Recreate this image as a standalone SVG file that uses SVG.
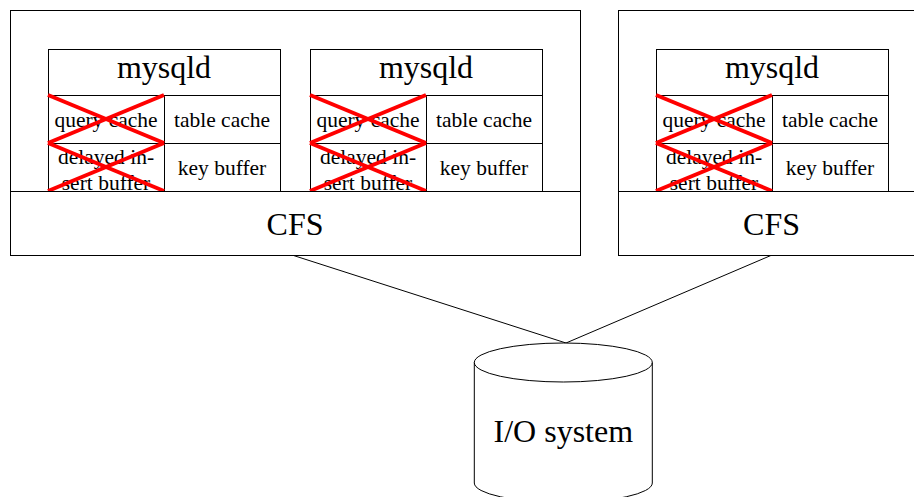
<svg xmlns="http://www.w3.org/2000/svg" width="914" height="497" viewBox="0 0 914 497" font-family="'Liberation Serif', 'Times New Roman', 'DejaVu Serif', serif">
<style>
.box{fill:#fff;stroke:#000;stroke-width:1}
.ln{fill:none;stroke:#000;stroke-width:1}
.x{stroke:#ff0000;stroke-width:4;stroke-linecap:butt}
.big{font-size:32px;font-family:'Liberation Serif',serif;fill:#000;text-anchor:middle}
.sm{font-size:21.5px;font-family:'Liberation Serif',serif;fill:#000;text-anchor:middle}
</style>
<defs>
<g id="mysqldBox">
<rect class="box" x="0.5" y="0.5" width="232" height="142"/>
<line class="ln" x1="0.5" y1="46.5" x2="232.5" y2="46.5"/>
<line class="ln" x1="0.5" y1="94.5" x2="232.5" y2="94.5"/>
<line class="ln" x1="116.5" y1="46.5" x2="116.5" y2="142.5"/>
<text class="big" font-family="Liberation Serif" x="116" y="29">mysqld</text>
<text class="sm" font-family="Liberation Serif" x="58" y="78">query cache</text>
<text class="sm" font-family="Liberation Serif" x="174" y="78">table cache</text>
<text class="sm" font-family="Liberation Serif" x="58" y="115">delayed in-</text>
<text class="sm" font-family="Liberation Serif" x="58" y="140.5">sert buffer</text>
<text class="sm" font-family="Liberation Serif" x="174" y="126">key buffer</text>
<line class="x" x1="0" y1="46" x2="116" y2="94"/>
<line class="x" x1="0" y1="94" x2="116" y2="46"/>
<line class="x" x1="0" y1="94" x2="116" y2="142"/>
<line class="x" x1="0" y1="142" x2="116" y2="94"/>
</g>
</defs>
<g id="connectors">
<line class="ln" x1="292" y1="255" x2="566" y2="343"/>
<line class="ln" x1="772" y1="255" x2="566" y2="343"/>
</g>
<g id="host1">
<rect class="box" x="10.5" y="10.5" width="570" height="245"/>
</g>
<g id="mysqld1"><use href="#mysqldBox" transform="translate(48,49)"/></g>
<g id="mysqld2"><use href="#mysqldBox" transform="translate(310,49)"/></g>
<g id="cfs1">
<rect class="box" x="10.5" y="191.5" width="570" height="64"/>
<text class="big" font-family="Liberation Serif" x="295" y="234.5">CFS</text>
</g>
<g id="host2">
<rect class="box" x="618.5" y="10.5" width="308" height="245"/>
</g>
<g id="mysqld3"><use href="#mysqldBox" transform="translate(656,49)"/></g>
<g id="cfs2">
<rect class="box" x="618.5" y="191.5" width="308" height="64"/>
<text class="big" font-family="Liberation Serif" x="771.5" y="234.5">CFS</text>
</g>
<g id="io">
<path class="box" d="M474.3,362.5 L474.3,483 A89,19.5 0 0 0 652.3,483 L652.3,362.5 A89,19.5 0 0 0 474.3,362.5 Z"/>
<path class="ln" d="M474.3,362.5 A89,19.5 0 0 0 652.3,362.5"/>
<text class="big" font-family="Liberation Serif" x="563.3" y="442">I/O system</text>
</g>
</svg>
